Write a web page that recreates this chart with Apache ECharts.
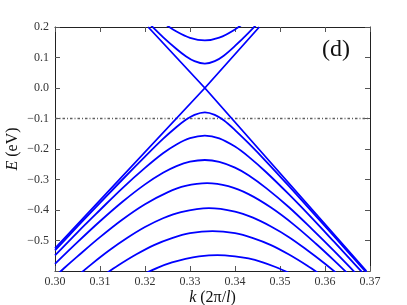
<!DOCTYPE html>
<html>
<head>
<meta charset="utf-8">
<script src="https://cdn.jsdelivr.net/npm/echarts@6/dist/echarts.min.js"></script>
<style>
html,body{margin:0;padding:0;background:#fff;}
#chart{width:407px;height:305px;}
</style>
</head>
<body>
<div id="chart"></div>
<script>
// x ticks (k in units of 2pi/l) and y ticks (E in eV)
const xTicks = [0.30, 0.31, 0.32, 0.33, 0.34, 0.35, 0.36, 0.37];
const yTicks = [0.2, 0.1, 0.0, -0.1, -0.2, -0.3, -0.4, -0.5, -0.6];
const fermiLevel = -0.1;

// Linear (Dirac) branches crossing at k = 1/3, E = 0
const diracA = [[0.3207, 0.2], [0.3333, 0.0], [0.3692, -0.6]];
const diracB = [[0.300, -0.526], [0.3333, 0.0], [0.3454, 0.2]];

// Conduction subbands
const cond1 = [[0.320, 0.225], [0.324, 0.167], [0.327, 0.128], [0.329, 0.105], [0.331, 0.088], [0.3333, 0.080], [0.3355, 0.088], [0.3375, 0.106], [0.340, 0.138], [0.343, 0.181], [0.347, 0.242]];
const cond2 = [[0.322, 0.236], [0.324, 0.214], [0.327, 0.185], [0.330, 0.1645], [0.3333, 0.156], [0.3365, 0.165], [0.340, 0.192], [0.343, 0.225]];

// Valence subbands
const val1 = [[0.300, -0.532], [0.305, -0.454], [0.310, -0.377], [0.315, -0.300], [0.320, -0.225], [0.324, -0.167], [0.327, -0.128], [0.329, -0.105], [0.331, -0.088], [0.3333, -0.080], [0.3355, -0.088], [0.3375, -0.106], [0.340, -0.138], [0.343, -0.181], [0.347, -0.242], [0.352, -0.322], [0.357, -0.404], [0.362, -0.486], [0.367, -0.5685], [0.370, -0.618]];
const val2 = [[0.300, -0.549], [0.305, -0.473], [0.310, -0.400], [0.315, -0.328], [0.320, -0.262], [0.324, -0.214], [0.327, -0.185], [0.330, -0.1645], [0.3333, -0.156], [0.3365, -0.165], [0.340, -0.192], [0.343, -0.225], [0.347, -0.277], [0.352, -0.349], [0.357, -0.425], [0.362, -0.504], [0.367, -0.584], [0.370, -0.632]];
const val3 = [[0.300, -0.5765], [0.305, -0.5055], [0.310, -0.437], [0.315, -0.373], [0.320, -0.316], [0.324, -0.278], [0.327, -0.256], [0.330, -0.2417], [0.3333, -0.236], [0.3365, -0.242], [0.340, -0.261], [0.343, -0.286], [0.347, -0.329], [0.352, -0.391], [0.357, -0.461], [0.362, -0.534], [0.367, -0.610]];
const val4 = [[0.300, -0.6185], [0.302, -0.591], [0.305, -0.552], [0.310, -0.489], [0.315, -0.431], [0.320, -0.381], [0.325, -0.342], [0.329, -0.321], [0.3338, -0.312], [0.3385, -0.322], [0.343, -0.348], [0.348, -0.392], [0.353, -0.447], [0.358, -0.5105], [0.362, -0.565], [0.366, -0.622]];
const val5 = [[0.305, -0.616], [0.308, -0.579], [0.312, -0.533], [0.316, -0.492], [0.320, -0.456], [0.324, -0.427], [0.328, -0.4066], [0.3342, -0.394], [0.340, -0.405], [0.344, -0.425], [0.348, -0.454], [0.352, -0.489], [0.356, -0.531], [0.360, -0.576], [0.364, -0.625]];
const val6 = [[0.311, -0.612], [0.314, -0.582], [0.318, -0.546], [0.322, -0.515], [0.326, -0.492], [0.330, -0.476], [0.335, -0.469], [0.340, -0.476], [0.344, -0.492], [0.348, -0.515], [0.352, -0.546], [0.356, -0.582], [0.359, -0.612]];
const val7 = [[0.320, -0.608], [0.323, -0.588], [0.326, -0.572], [0.329, -0.560], [0.332, -0.552], [0.3361, -0.548], [0.340, -0.552], [0.343, -0.559], [0.346, -0.571], [0.349, -0.587], [0.352, -0.606]];

const bands = [diracA, diracB, cond1, cond2, val1, val2, val3, val4, val5, val6, val7];

const serif = '"Liberation Serif", "DejaVu Serif", serif';
const chart = echarts.init(document.getElementById('chart'), null, {renderer: 'canvas'});

const fmtY = v => {
  const r = Math.round(v * 10) / 10;
  if (Math.abs(r + 0.6) < 1e-6) return '';
  const s = Math.abs(r).toFixed(1);
  return r < 0 ? '\u2212' + s : s;
};
const fmtX = v => (Math.round(v * 100) / 100).toFixed(2);

const axisLine = {show: true, onZero: false, lineStyle: {color: '#222', width: 1}};
const axisTick = {show: true, inside: true, length: 5, lineStyle: {color: '#555', width: 1}};

const series = bands.map(b => ({
  type: 'line',
  data: b,
  smooth: b.length > 3 ? 0.35 : false,
  showSymbol: false,
  symbol: 'none',
  clip: true,
  lineStyle: {color: '#0000ff', width: 1.8},
  z: 3
}));
series.push({
  type: 'line',
  data: [[xTicks[0], fermiLevel], [xTicks[xTicks.length - 1], fermiLevel]],
  showSymbol: false,
  symbol: 'none',
  lineStyle: {color: '#606060', width: 1.4, type: [2.5, 2, 1, 2]},
  z: 2
});

chart.setOption({
  animation: false,
  backgroundColor: '#fff',
  grid: {left: 55, top: 27, right: 37, bottom: 34, containLabel: false, outerBoundsMode: 'none'},
  xAxis: [{
    type: 'value', min: 0.30, max: 0.37, interval: 0.01, position: 'bottom',
    axisLine, axisTick, splitLine: {show: false},
    axisLabel: {formatter: fmtX, fontFamily: serif, fontSize: 12, color: '#333', margin: 5},
    name: '{i|k} (2\u03c0/{i|l})', nameLocation: 'middle', nameGap: 19, nameMoveOverlap: false,
    nameTextStyle: {fontFamily: serif, fontSize: 16, color: '#111',
      rich: {i: {fontFamily: serif, fontSize: 16, fontStyle: 'italic', color: '#111'}}}
  }, {
    type: 'value', min: 0.30, max: 0.37, interval: 0.01, position: 'top',
    axisLine, axisTick, splitLine: {show: false}, axisLabel: {show: false}
  }],
  yAxis: [{
    type: 'value', min: -0.6, max: 0.2, interval: 0.1, position: 'left',
    axisLine, axisTick, splitLine: {show: false},
    axisLabel: {formatter: fmtY, fontFamily: serif, fontSize: 12, color: '#333', margin: 6},
    name: '{i|E} (eV)', nameLocation: 'middle', nameGap: 34, nameRotate: 90, nameMoveOverlap: false,
    nameTextStyle: {fontFamily: serif, fontSize: 16, color: '#111',
      rich: {i: {fontFamily: serif, fontSize: 16, fontStyle: 'italic', color: '#111'}}}
  }, {
    type: 'value', min: -0.6, max: 0.2, interval: 0.1, position: 'right',
    axisLine, axisTick, splitLine: {show: false}, axisLabel: {show: false}
  }],
  graphic: [{
    type: 'text', left: 322, top: 38,
    style: {text: '(d)', fontFamily: serif, fontSize: 24, fill: '#111'}
  }],
  series
});
</script>
</body>
</html>
